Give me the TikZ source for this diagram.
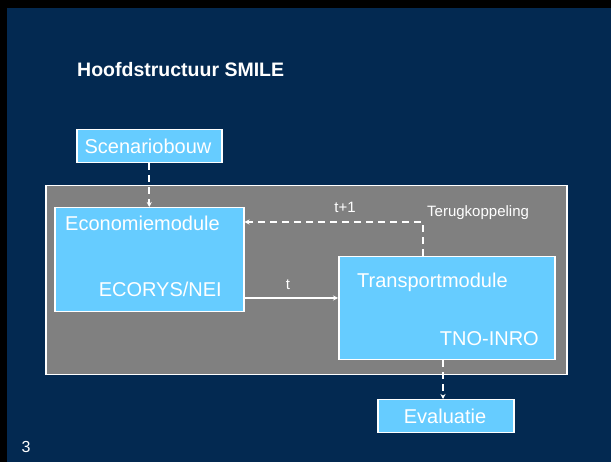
\documentclass[tikz,border=0pt]{standalone}
\usepackage{fontspec}
\setmainfont{Liberation Sans}
\usetikzlibrary{arrows.meta}

\definecolor{navy}{RGB}{3,41,81}
\definecolor{skyblue}{RGB}{102,204,255}
\definecolor{midgray}{RGB}{128,128,128}

\tikzset{
  modbox/.style={draw=white, line width=1.5pt, fill=skyblue, inner sep=0pt},
  lbl/.style={text=white, font=\fontsize{20}{24}\selectfont, inner sep=0pt},
  small/.style={text=white, font=\fontsize{15}{18}\selectfont, inner sep=0pt},
  link/.style={white, line width=1.8pt, -{Stealth[length=5pt,width=5pt]}},
  dlink/.style={link, dash pattern=on 7pt off 5pt}
}

\begin{document}
\begin{tikzpicture}[x=1pt,y=-1pt]
  \useasboundingbox (0,0) rectangle (611,462);

  % Draw the slide background
  \fill[navy] (0,0) rectangle (611,462);
  \fill[black] (0,0) rectangle (611,8);
  \fill[black] (0,0) rectangle (7,462);

  \node[text=white, font=\bfseries\fontsize{19.5}{23}\selectfont, anchor=base west, inner sep=0pt] (title) at (77,77) {Hoofdstructuur SMILE};

  % Draw the boxes
  \node[modbox, anchor=north west, minimum width=145, minimum height=33] (scen) at (76,129) {};
  \node[lbl] (scentext) at (148,146) {Scenariobouw};

  \node[draw=white, line width=1.5pt, fill=midgray, anchor=north west, minimum width=521, minimum height=189] (frame) at (45,185) {};

  \node[modbox, anchor=north west, minimum width=189, minimum height=104] (econ) at (54,207) {};
  \node[lbl, anchor=west] (econname) at (65,223) {Economiemodule};
  \node[lbl, anchor=east] (econby) at (222,289) {ECORYS/NEI};

  \node[modbox, anchor=north west, minimum width=216, minimum height=103] (trans) at (338,256) {};
  \node[lbl, anchor=west] (transname) at (357,282) {Transportmodule};
  \node[lbl, anchor=east] (transby) at (539,339) {TNO-INRO};

  \node[modbox, anchor=north west, minimum width=136, minimum height=33] (eval) at (377,399) {};
  \node[lbl] (evaltext) at (445,416) {Evaluatie};

  % Draw the connectors
  \coordinate (fbtop) at (423,222);
  \coordinate (tline) at (0,298);
  \coordinate (evx) at (443,0);

  \draw[dlink] (scen.south) -- (econ.north -| scen.south);
  \draw[dlink] (trans.north -| fbtop) -- (fbtop) -- (econ.east |- fbtop);
  \draw[link] (econ.east |- tline) -- (trans.west |- tline);
  \draw[dlink] (trans.south -| evx) -- (eval.north -| evx);

  \node[small] (tnext) at (345,207) {t+1};
  \node[small, anchor=west] (fbtext) at (427,213) {Terugkoppeling};
  \node[small] (tnow) at (288,285) {t};

  \node[text=white, font=\fontsize{16}{19}\selectfont, inner sep=0pt] (pageno) at (26,447) {3};
\end{tikzpicture}
\end{document}
